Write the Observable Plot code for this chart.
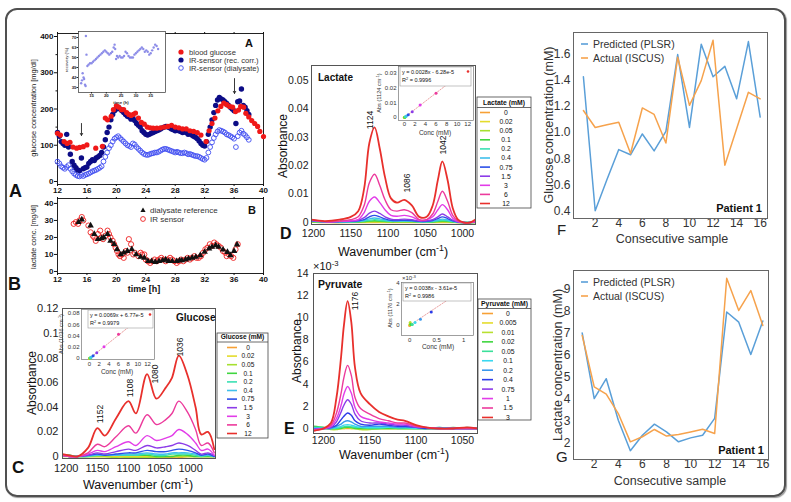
<!DOCTYPE html>
<html><head><meta charset="utf-8">
<script src="https://cdn.jsdelivr.net/npm/d3@7"></script>
<script src="https://cdn.jsdelivr.net/npm/@observablehq/plot@0.6"></script>
<style>
body{margin:0;background:#fff;}
#root{position:relative;width:791px;height:502px;overflow:hidden;background:#fff;}
#frame{position:absolute;left:5px;top:8px;width:777px;height:485px;border:2px solid #505050;border-radius:12px;box-shadow:1px 1px 1px #999;}
</style></head>
<body><div id="root"><div id="frame"></div></div>
<script>
// ---------------- DATA ----------------
// Panel A: glucose time series (time h, mg/dl)
const aTimeStart = 12, aTimeStep = 0.25, aTimeEnd = 38;
const irCorrected = [135,125,110,105,100,130,95,75,55,45, 38,32,30,65,35,38,40,50,55,60, 58,65,68,72,80,95,115,135,150,170,
 185,195,200,205,200,195,190,185,180,178, 172,175,168,160,155,150,140,135,130,128, 130,133,135,138,140,142,145,148,150,152,
 150,148,145,143,140,142,140,138,135,137, 135,130,132,128,125,122,118,112,105,100, 98,110,130,150,170,190,210,225,232,228,
 225,220,215,210,205,200,195,160,220,222, 255,210,205,195,185];
const irDialysate = [55,50,42,38,35,40,45,35,28,22, 18,15,14,18,15,18,20,22,25,28, 30,32,35,38,42,55,68,80,92,100,
 110,118,122,125,120,115,110,105,100,98, 95,105,102,95,90,85,80,76,74,73, 75,77,78,80,80,82,85,88,90,90,
 88,86,84,82,80,82,80,78,78,80, 78,75,76,74,72,70,70,68,65,62, 60,65,80,95,108,120,130,138,142,140,
 138,135,130,128,125,122,118,95,125,135, 140,132,128,122,115];
const bloodT = [12.0,12.4,12.9,13.3,13.7,14.1,14.6,15.0,15.5,16.0,17.2,18.1,18.5,18.8,19.3,19.6,20.0,20.3,20.7,21.0,21.4,21.7,22.0,22.3,22.6,23.0,23.4,23.8,24.2,24.6,25.0,25.5,26.0,26.5,27.0,27.5,28.0,28.5,29.0,29.5,30.0,30.5,31.0,31.5,32.2,32.6,33.0,33.4,33.8,34.2,34.6,35.0,35.4,35.8,36.2,36.6,36.9,37.3,37.6,38.0,38.4,38.8,39.2,39.5,40.0];
const bloodV = [133,128,110,105,108,95,92,94,96,101,92,97,175,170,180,198,209,205,198,198,190,185,182,185,189,175,163,158,150,148,147,147,148,150,152,155,150,148,145,145,140,138,135,128,110,140,160,175,195,207,216,212,207,205,193,197,207,205,188,178,168,160,152,138,124];
const arrowT = [15.26, 36.06], arrowFrom = [160, 284], arrowTo = [127, 243];
// inset of A: recovery (%)
const recT = [11.5,11.8,12.0,12.3,12.5,12.8,13.0,13.1,13.3,13.6,14.0,14.5,15.0,15.5,16.0,16.5,17.0,17.5,18.0,18.5,19.0,19.5,20.0,20.5,21.0,21.5,22.0,22.5,22.8,23.0,23.3,23.6,24.0,24.5,25.0,25.5,26.0,26.5,27.0,27.5,28.0,28.5,29.0,29.5,30.0,30.5,31.0,31.5,32.0,32.5,33.0,33.5,34.0,34.5,35.0,35.5,36.0,36.5,37.0,37.5];
const recV = [38,40,45,42,41,37,36,71,58,50,51,52,52,53,54,55,56,57,58,59,60,61,60,59,58,59,60,63,65,62,55,57,56,57,56,56,57,60,59,57,56,56,56,58,59,60,61,62,63,62,60,61,60,58,59,61,63,65,64,62];
// Panel B: lactate (mg/dl)
const refT = [14.85,15.3,16.5,17.0,17.5,18.0,18.3,18.8,19.2,19.7,20.1,20.6,21.0,21.5,22.1,22.7,23.3,23.8,24.3,24.8,25.3,25.8,26.3,26.7,27.1,27.6,28.2,28.6,28.9,29.4,29.8,30.3,30.8,31.4,32.0,32.6,33.0,33.5,33.9,34.5,35.1,35.5,36.0,36.4];
const refV = [29,30.5,27,22,19,19.5,20,22,18,16,13,10,11,12,13,10,8.5,8,6,6,5.5,6,6.5,7,6,6,6,6.5,6.5,7,7.5,8,8.5,9.5,11.5,13.4,14.4,15.4,14.4,12.8,11.4,9.5,12,15.8];
const irLacT = [14.2,14.5,14.8,15.0,15.3,15.5,16.2,16.5,16.8,17.0,17.2,17.5,17.8,18.0,18.2,18.5,18.8,19.0,19.2,19.5,19.7,19.9,20.1,20.3,20.5,20.8,21.0,21.3,21.5,21.7,22.0,22.3,22.5,23.0,23.3,23.5,23.8,24.0,24.3,24.6,24.9,25.2,25.5,25.8,26.1,26.4,26.7,27.0,27.3,27.6,27.9,28.2,28.5,28.8,29.1,29.4,29.7,30.0,30.3,30.6,30.9,31.2,31.5,31.8,32.1,32.4,32.7,33.0,33.3,33.6,33.9,34.2,34.5,34.8,35.0,35.3,35.6,35.9,36.2,36.5];
const irLacV = [28,29,28,30,32,30,27,23,21,20,18,22,24,20,19,21,24,22,20,18,16,14,12,10,9,10,8,12,11,19,16,10,11,9,11,10,10,7,6,5,6,7,6,7,8,7,6,7,8,7,6,5,6,7,6,7,8,7,8,9,8,8,9,11,13,14,16,15,17,16,15,14,12,11,9,10,9,8,13,16];

// Panel C: glucose spectra
const gConc = ["0","0.02","0.05","0.1","0.2","0.4","0.75","1.5","3","6","12"];
const gWn = [1206,1195,1182,1165,1150,1138,1120,1100,1088,1070,1055,1040,1030,1019,1005,992,983,972,962];
const gAbs = [
 [0.001,0.000,0.000,0.000,0.000,0.000,0.000,0.000,0.000,-0.001,-0.001,-0.001,-0.001,-0.001,0.000,0.000,0.000,0.000,0.000],
 [0.001,0.001,0.000,0.000,0.000,0.000,0.000,0.000,0.000,0.000,0.000,0.000,0.000,0.000,0.000,0.000,0.000,0.000,0.000],
 [0.000,0.000,0.000,0.000,0.000,0.000,-0.001,-0.001,-0.001,-0.001,-0.001,0.000,0.000,0.000,0.000,0.000,0.000,0.000,0.000],
 [0.001,0.001,0.000,0.001,0.001,0.001,0.001,0.001,0.001,0.001,0.000,0.000,0.000,0.001,0.001,0.000,0.000,0.000,0.000],
 [0.001,0.001,0.000,0.000,0.001,0.001,0.001,0.001,0.001,0.002,0.001,0.001,0.002,0.002,0.002,0.001,0.000,0.001,0.000],
 [0.001,0.000,0.000,0.001,0.001,0.001,0.001,0.002,0.002,0.003,0.002,0.002,0.003,0.003,0.003,0.002,0.001,0.001,0.000],
 [0.001,0.000,0.000,0.001,0.002,0.001,0.002,0.003,0.003,0.005,0.004,0.004,0.005,0.006,0.005,0.003,0.001,0.002,0.000],
 [0.001,0.000,0.000,0.001,0.003,0.002,0.004,0.006,0.005,0.009,0.007,0.008,0.009,0.011,0.009,0.005,0.002,0.003,0.001],
 [0.001,0.000,0.000,0.002,0.005,0.004,0.008,0.012,0.009,0.017,0.013,0.015,0.017,0.022,0.018,0.011,0.005,0.006,0.001],
 [0.001,0.000,0.000,0.003,0.010,0.008,0.016,0.025,0.019,0.034,0.026,0.030,0.035,0.045,0.036,0.022,0.009,0.011,0.003],
 [0.002,0.001,0.000,0.007,0.023,0.017,0.031,0.045,0.035,0.067,0.047,0.056,0.064,0.082,0.066,0.040,0.018,0.020,0.006]];
const gFitAbs = [0,0.0002,0.0004,0.0007,0.0014,0.0028,0.005,0.010,0.021,0.043,0.082];

// Panel D: lactate spectra
const lConc = ["0","0.02","0.05","0.1","0.2","0.4","0.75","1.5","3","6","12"];
const lWn = [1203,1185,1165,1150,1140,1132,1125,1118,1111,1104,1096,1088,1078,1068,1058,1048,1040,1033,1027,1020,1013,1006,998,990,983];
const lAbs = [
 [0.0002,0,0,0,0,0,0,0,0,0,0,0,0,0,0,0,0,0,0,0,0,0,0,0,0],
 [0.0003,0.0001,0.0001,0.0001,0.0001,0.0001,0.0001,0.0002,0.0001,0.0001,0.0001,0.0001,0.0001,0.0001,0.0001,0.0001,0.0001,0.0001,0.0002,0.0001,0.0001,0,0,0,0],
 [0.0002,0.0001,0,0.0001,0.0001,0.0002,0.0003,0.0003,0.0003,0.0002,0.0002,0.0002,0.0002,0.0002,0.0001,0.0001,0.0001,0.0002,0.0003,0.0002,0.0001,0,0,0,0],
 [0.0003,0.0001,0.0001,0.0001,0.0002,0.0003,0.0005,0.0006,0.0005,0.0004,0.0003,0.0003,0.0003,0.0003,0.0002,0.0002,0.0002,0.0004,0.0005,0.0004,0.0002,0.0001,0,0,0.0001],
 [0.0004,0.0002,0.0002,0.0002,0.0003,0.0005,0.0008,0.001,0.0008,0.0006,0.0004,0.0004,0.0004,0.0004,0.0002,0.0002,0.0003,0.0006,0.0008,0.0006,0.0003,0.0001,0,0,0.0001],
 [0.0005,0.0002,0.0002,0.0003,0.0004,0.0007,0.0013,0.0016,0.0013,0.0009,0.0006,0.0005,0.0006,0.0005,0.0003,0.0003,0.0005,0.0009,0.0012,0.0009,0.0004,0.0001,0,0,0.0001],
 [0.0006,0.0003,0.0003,0.0004,0.0006,0.001,0.002,0.0025,0.002,0.0013,0.0008,0.0007,0.0008,0.0007,0.0004,0.0004,0.0007,0.0014,0.002,0.0014,0.0006,0.0002,0,0,0.0002],
 [0.0008,0.0003,0.0004,0.0005,0.0008,0.0017,0.0033,0.004,0.0032,0.002,0.0012,0.001,0.0012,0.001,0.0005,0.0006,0.001,0.002,0.003,0.002,0.0008,0.0002,0,0,0.0002],
 [0.0008,0.0003,0.0004,0.0006,0.001,0.0035,0.0075,0.009,0.007,0.0045,0.0025,0.0022,0.0025,0.002,0.0008,0.001,0.002,0.0045,0.0063,0.0045,0.0015,0.0003,0,0,0.0003],
 [0.001,0.0003,0.0005,0.001,0.002,0.006,0.014,0.017,0.013,0.008,0.0045,0.004,0.0045,0.0035,0.001,0.001,0.003,0.0075,0.011,0.0075,0.0025,0.0005,0,0,0.0005],
 [0.001,0.0005,0.001,0.002,0.004,0.012,0.028,0.0335,0.026,0.016,0.0085,0.007,0.008,0.006,0.002,0.002,0.006,0.015,0.0215,0.015,0.005,0.001,0,0,0.001]];
const lFitAbs = [0,0.0001,0.0002,0.0003,0.0006,0.0011,0.002,0.004,0.0085,0.0165,0.0335];

// Panel E: pyruvate spectra (absorbance x 10^-3)
const pConc = ["0","0.005","0.01","0.02","0.05","0.1","0.2","0.4","0.75","1","1.5","3"];
const pWn = [1211,1200,1192,1186,1181,1178,1174,1170,1166,1160,1150,1140,1130,1120,1112,1100,1090,1075,1060,1045,1033];
const pAbsE3 = [
 [0,0,0,0,0,0,0,0,0,0,0,0,0,0,0,0,0,0,0,0,0],
 [0.1,0.1,0.1,0.1,0.1,0.1,0.1,0.1,0.1,0,0,0,0,0,0,0,0,0,0,0,0],
 [0,0,-0.1,-0.1,0,0,0.1,0,0,-0.1,-0.1,0,0,0,0,0,0,0,0,0,0],
 [0.2,0.1,0,0,0,0.1,0.1,0.1,0,0,0,0,0,0,0,0,0,0,0.1,0,0],
 [0.1,0.1,0,0,0.1,0.15,0.2,0.15,0.1,0.1,0,0,0.1,0,0,0,0,0.1,0,0.1,0],
 [0.1,0,0,0.1,0.2,0.3,0.35,0.3,0.2,0.1,0.1,0.1,0.1,0.1,0.1,0,0,0.1,0,0,0],
 [0,0,0,0.2,0.4,0.6,0.7,0.6,0.4,0.2,0.2,0.2,0.2,0.1,0.1,0.1,0,0,0,0,0],
 [-0.1,0,0.1,0.3,0.8,1.1,1.4,1.2,0.7,0.4,0.3,0.4,0.3,0.2,0.2,0.1,0,0,0,0,0],
 [-0.1,0,0.1,0.6,1.5,2.1,2.6,2.2,1.3,0.7,0.5,0.5,0.4,0.3,0.3,0.1,0.1,0,0,0,0],
 [-0.1,0,0.2,0.9,2.1,3.1,3.8,3.2,1.9,1.1,0.8,0.6,0.5,0.4,0.4,0.2,0.1,0,0,0,0],
 [-0.2,0,0.3,1.4,3.2,4.6,5.7,4.8,2.8,1.8,1.3,0.9,0.7,0.5,0.5,0.2,0.1,0,0,0,0],
 [-0.2,0,0.5,2.8,6.5,9.3,11.5,9.6,5.5,3.2,2.2,1.5,1.1,0.8,0.7,0.3,0.1,0,0,0.1,0]];
const pFitConc = [0,0.005,0.01,0.02,0.05,0.1,0.2,0.4,0.75,1];
const pFitAbsE3 = [0,0.1,0.3,0.1,0.1,0.3,0.6,1.3,2.5,3.6];

// Panels F, G: PLSR predictions, patient 1
const sampleNo = [1,2,3,4,5,6,7,8,9,10,11,12,13,14,15,16];
const gluPredicted = [1.43,0.40,0.64,0.87,0.83,0.99,0.86,1.01,1.60,1.04,1.68,1.43,1.51,1.26,1.70,1.12];
const gluActual = [1.17,1.04,1.06,1.08,0.84,1.19,1.14,0.92,1.58,1.21,1.40,1.71,0.75,1.03,1.31,1.26];
const lacPredicted = [7.0,4.03,4.93,3.05,1.67,2.37,2.87,2.52,2.07,2.25,2.37,3.13,7.95,7.49,6.03,7.54];
const lacActual = [6.89,4.56,4.23,3.35,2.07,2.30,2.63,2.33,2.40,2.52,2.64,2.45,9.48,8.02,8.92,7.34];

// colours
const spec11 = ["#f7a035","#e4dc2c","#a6e030","#40d640","#3ae0b4","#40c0ec","#2c50e8","#8c3ce8","#e23ce8","#ec3a9c","#e8302c"];
const spec12 = ["#f7a035","#e4dc2c","#b8e030","#40d640","#3ae09a","#3ad8f0","#3a98ec","#2c3ce8","#8c3ce8","#e23ce8","#ec3a9c","#e8302c"];
const cPred = "#5a9fd8", cAct = "#f6a24c";

// ---------------- HELPERS ----------------
const FONT = '"Liberation Sans", Arial, Helvetica, sans-serif';
const root = document.getElementById("root");
function mount(box, m, opts, style = {}) {
  const [x0, y0, x1, y1] = box, [mt, mr, mb, ml] = m;
  const p = Plot.plot({
    ...opts,
    width: x1 - x0 + ml + mr, height: y1 - y0 + mt + mb,
    marginTop: mt, marginRight: mr, marginBottom: mb, marginLeft: ml,
    style: {background: "transparent", fontFamily: FONT, overflow: "visible", ...style}
  });
  p.style.position = "absolute"; p.style.left = (x0 - ml) + "px"; p.style.top = (y0 - mt) + "px";
  p.style.maxWidth = "none";
  root.appendChild(p);
  return p;
}
const tGrid = d3.range(aTimeStart, aTimeEnd + 0.001, aTimeStep);
const corrRows = irCorrected.map((v, i) => ({t: tGrid[i], v}));
const dialRows = irDialysate.map((v, i) => ({t: tGrid[i], v}));
const bloodRows = bloodT.map((t, i) => ({t, v: bloodV[i]}));
const arrowRows = arrowT.map((t, i) => ({t, from: arrowFrom[i], to: arrowTo[i]}));
const recRows = recT.map((t, i) => ({t, v: recV[i]}));
const refRows = refT.map((t, i) => ({t, v: refV[i]}));
const irLacRows = irLacT.map((t, i) => ({t, v: irLacV[i]}));
function specLines(wn, abs, colors) {
  return abs.map((arr, i) => Plot.line(wn.map((w, j) => ({w, a: arr[j]})),
    {x: "w", y: "a", stroke: colors[i], strokeWidth: i === abs.length - 1 ? 1.8 : 1.4, curve: "catmull-rom", clip: true}));
}
const xTicksA = [12,16,20,24,28,32,36,40];

// ---------------- PANEL A ----------------
mount([57,33,263,184],[4,4,14,26],{
  x:{domain:[12,40]}, y:{domain:[-8.3,408.3]},
  marks:[
    Plot.frame({stroke:"#222"}),
    Plot.axisY({ticks:[0,100,200,300,400], tickSize:3, tickPadding:1, label:null, tickFormat:d=>String(d)}),
    Plot.axisY({ticks:[50,150,250,350], tickSize:1.5, label:null, tickFormat:()=>""}),
    Plot.axisX({ticks:xTicksA, tickSize:2, tickPadding:1, label:null, tickFormat:d=>String(d)}),
    Plot.axisX({anchor:"top", ticks:xTicksA, tickSize:2, label:null, tickFormat:()=>""}),
    Plot.dot(dialRows,{x:"t",y:"v",r:2.4,stroke:"#3f4df0",strokeWidth:0.9,fill:"none"}),
    Plot.dot(corrRows,{x:"t",y:"v",r:2.7,fill:"#0c0c86"}),
    Plot.dot(bloodRows,{x:"t",y:"v",r:2.6,fill:"#f01818"}),
    Plot.arrow(arrowRows,{x1:"t",x2:"t",y1:"from",y2:"to",headLength:4,strokeWidth:0.9,stroke:"#222"})
  ]
},{fontSize:"8px",fontWeight:"bold",color:"#111"});
// inset recovery
mount([78,31,165,92],[2,2,10,12],{
  x:{domain:[10.6,40]}, y:{domain:[31.5,74.2]},
  marks:[
    Plot.frame({fill:"white",stroke:"#333",strokeWidth:0.7}),
    Plot.axisY({ticks:[35,42,49,56,63,70], tickSize:1.5, tickPadding:0.5, label:null, tickFormat:d=>String(d)}),
    Plot.axisX({ticks:[15,20,25,30,35], tickSize:1.5, tickPadding:0, label:null, tickFormat:d=>String(d)}),
    Plot.dot(recRows,{x:"t",y:"v",r:1.2,fill:"#8d8de8"})
  ]
},{fontSize:"4.3px",fontWeight:"bold",color:"#222"});

// ---------------- PANEL B ----------------
mount([57,198,263,273],[3,4,14,26],{
  x:{domain:[12,40]}, y:{domain:[-1.2,42.9]},
  marks:[
    Plot.frame({stroke:"#222"}),
    Plot.axisY({ticks:[0,10,20,30,40], tickSize:3, tickPadding:1, label:null, tickFormat:d=>String(d)}),
    Plot.axisX({ticks:xTicksA, tickSize:2, tickPadding:1, label:null, tickFormat:d=>String(d)}),
    Plot.axisX({anchor:"top", ticks:xTicksA, tickSize:2, label:null, tickFormat:()=>""}),
    Plot.dot(irLacRows,{x:"t",y:"v",r:2.6,stroke:"#ee2020",strokeWidth:0.9,fill:"none"}),
    Plot.dot(refRows,{x:"t",y:"v",r:2.4,symbol:"triangle",fill:"#111"})
  ]
},{fontSize:"8px",fontWeight:"bold",color:"#111"});

// ---------------- PANEL C ----------------
mount([62,308,215,458],[4,4,22,40],{
  x:{domain:[1206,960]}, y:{domain:[-0.0016,0.1203]},
  marks:[
    ...specLines(gWn, gAbs, spec11),
    Plot.axisY({ticks:[0,0.02,0.04,0.06,0.08,0.1,0.12], tickSize:0, tickPadding:4, label:null, tickFormat:d=>String(d)}),
    Plot.axisX({ticks:[1200,1150,1100,1050,1000], tickSize:0, tickPadding:5.5, label:null, tickFormat:d=>String(d)}),
    Plot.frame({stroke:"#555"})
  ]
},{fontSize:"11px",color:"#222"});
const gFitRows = gConc.map((c, i) => ({c: +c, a: gFitAbs[i], col: spec11[i]}));
mount([81,309,154,359],[1,1,10,14],{
  x:{domain:[-1.66,13.45]}, y:{domain:[-0.0018,0.0871]}, color:{type:"identity"},
  marks:[
    Plot.frame({fill:"white",stroke:"#777",strokeWidth:0.7}),
    Plot.linearRegressionY(gFitRows,{x:"c",y:"a",stroke:"#e58a8a",strokeDasharray:"1.5,1.5",strokeWidth:0.8,ci:0}),
    Plot.dot(gFitRows,{x:"c",y:"a",fill:"col",r:1.5}),
    Plot.axisY({ticks:[0,0.02,0.04,0.06,0.08], tickSize:0, tickPadding:2, label:null, tickFormat:d=>String(d)}),
    Plot.axisX({ticks:[0,2,4,6,8,10,12], tickSize:0, tickPadding:2, label:null, tickFormat:d=>String(d)})
  ]
},{fontSize:"6px",color:"#333"});

// ---------------- PANEL D ----------------
mount([311,65,475,224],[4,4,22,40],{
  x:{domain:[1202.7,982.5]}, y:{domain:[-0.0007,0.0553]},
  marks:[
    ...specLines(lWn, lAbs, spec11),
    Plot.axisY({ticks:[0,0.01,0.02,0.03,0.04,0.05], tickSize:0, tickPadding:3, label:null, tickFormat:d=>String(d)}),
    Plot.axisX({ticks:[1200,1150,1100,1050,1000], tickSize:0, tickPadding:5.5, label:null, tickFormat:d=>String(d)}),
    Plot.frame({stroke:"#555"})
  ]
},{fontSize:"10.5px",color:"#222"});
const lFitRows = lConc.map((c, i) => ({c: +c, a: lFitAbs[i], col: spec11[i]}));
mount([398,66,473,120],[1,1,10,14],{
  x:{domain:[-1.1,13.1]}, y:{domain:[-0.002,0.0348]}, color:{type:"identity"},
  marks:[
    Plot.frame({fill:"white",stroke:"#777",strokeWidth:0.7}),
    Plot.linearRegressionY(lFitRows,{x:"c",y:"a",stroke:"#e58a8a",strokeDasharray:"1.5,1.5",strokeWidth:0.8,ci:0}),
    Plot.dot(lFitRows,{x:"c",y:"a",fill:"col",r:1.5}),
    Plot.axisY({ticks:[0,0.01,0.02,0.03], tickSize:0, tickPadding:2, label:null, tickFormat:d=>String(d)}),
    Plot.axisX({ticks:[0,2,4,6,8,10,12], tickSize:0, tickPadding:1.5, label:null, tickFormat:d=>String(d)})
  ]
},{fontSize:"6px",color:"#333"});

// ---------------- PANEL E ----------------
mount([313,273,477,433],[4,4,22,40],{
  x:{domain:[1210.8,1033.8]}, y:{domain:[-0.45,14]},
  marks:[
    ...specLines(pWn, pAbsE3, spec12),
    Plot.axisY({ticks:[0,2,4,6,8,10,12,14], tickSize:0, tickPadding:5, label:null, tickFormat:d=>String(d)}),
    Plot.axisX({ticks:[1200,1150,1100,1050], tickSize:0, tickPadding:3, label:null, tickFormat:d=>String(d)}),
    Plot.frame({stroke:"#555"})
  ]
},{fontSize:"10.5px",color:"#222"});
const pFitRows = pFitConc.map((c, i) => ({c, a: pFitAbsE3[i], col: spec12[i]}));
mount([401,282,473,335],[1,1,10,14],{
  x:{domain:[-0.15,1.18]}, y:{domain:[-0.95,4.1]}, color:{type:"identity"},
  marks:[
    Plot.frame({fill:"white",stroke:"#777",strokeWidth:0.7}),
    Plot.linearRegressionY(pFitRows,{x:"c",y:"a",stroke:"#e58a8a",strokeDasharray:"1.5,1.5",strokeWidth:0.8,ci:0}),
    Plot.dot(pFitRows,{x:"c",y:"a",fill:"col",r:1.5}),
    Plot.axisY({ticks:[0,2,4], tickSize:0, tickPadding:2, label:null, tickFormat:d=>String(d)}),
    Plot.axisX({ticks:[0,0.5,1], tickSize:0, tickPadding:2, label:null, tickFormat:d=>String(d)})
  ]
},{fontSize:"6px",color:"#333"});

// ---------------- PANELS F, G ----------------
function plsr(box, xd, yd, yt, fmt, pred, act) {
  const pr = sampleNo.map((s, i) => ({s, v: pred[i]})), ac = sampleNo.map((s, i) => ({s, v: act[i]}));
  mount(box,[2,2,20,40],{
    x:{domain:xd}, y:{domain:yd},
    marks:[
      Plot.line(pr,{x:"s",y:"v",stroke:cPred,strokeWidth:1.5}),
      Plot.line(ac,{x:"s",y:"v",stroke:cAct,strokeWidth:1.5}),
      Plot.axisY({ticks:yt, tickSize:0, tickPadding:3, label:null, tickFormat:fmt}),
      Plot.axisX({ticks:[2,4,6,8,10,12,14,16], tickSize:0, tickPadding:0, label:null, tickFormat:d=>String(d)}),
      Plot.frame({stroke:"#666"})
    ]
  },{fontSize:"12px",color:"#333"});
}
plsr([573,32,767,218],[0.16,16.62],[0.34,1.77],[0.4,0.6,0.8,1.0,1.2,1.4,1.6],d=>d.toFixed(1),gluPredicted,gluActual);
plsr([573,270,768,459],[0.28,16.47],[1.27,9.83],[2,3,4,5,6,7,8,9],d=>String(d),lacPredicted,lacActual);

// ---------------- OVERLAY TEXT / LEGENDS ----------------
const ov = d3.create("svg").attr("width",791).attr("height",502)
  .style("position","absolute").style("left","0px").style("top","0px").style("overflow","visible");
root.appendChild(ov.node());
function T(x, y, parts, o = {}) {
  const size = o.size || 10;
  const t = ov.append("text").attr("x",x).attr("y",y).attr("font-size",size).attr("font-family",FONT)
    .attr("font-weight",o.weight||"normal").attr("text-anchor",o.anchor||"start").attr("fill",o.fill||"#111");
  if (o.rot) t.attr("transform",`rotate(-90 ${x} ${y})`).attr("text-anchor","middle").attr("dy","0.35em");
  if (typeof parts === "string") parts = [parts];
  let up = false;
  parts.forEach(p => {
    const sup = Array.isArray(p);
    const s = t.append("tspan").text(sup ? p[0] : p);
    if (sup && !up) { s.attr("dy", -0.4*size).attr("font-size", size*0.7); up = true; }
    else if (!sup && up) { s.attr("dy", 0.4*size); up = false; }
  });
  return t;
}
function line(x1,y1,x2,y2,c,w){ ov.append("line").attr("x1",x1).attr("y1",y1).attr("x2",x2).attr("y2",y2).attr("stroke",c).attr("stroke-width",w); }
function legendBox(x0,y0,x1,y1,lineY,title,labels,colors,firstY,step,sw0,sw1,tx,fs){
  ov.append("rect").attr("x",x0).attr("y",y0).attr("width",x1-x0).attr("height",y1-y0).attr("fill","white").attr("stroke","#444").attr("stroke-width",0.8);
  line(x0,lineY,x1,lineY,"#444",0.8);
  T((x0+x1)/2, lineY-2.6, title, {size:fs, weight:"bold", anchor:"middle"});
  labels.forEach((l,i)=>{ const y=firstY+i*step; line(sw0,y,sw1,y,colors[i],1.6); T(tx,y+fs*0.36,l,{size:fs,anchor:"middle"}); });
}
function eqBox(x0,y0,x1,y1,l1,l2,fs,dot){
  ov.append("rect").attr("x",x0).attr("y",y0).attr("width",x1-x0).attr("height",y1-y0).attr("fill","white").attr("stroke","#999").attr("stroke-width",0.6);
  T(x0+2, y0+6.5, l1, {size:fs});
  T(x0+2, y0+15, ["R",["2"]," = "+l2], {size:fs});
  if (dot) ov.append("circle").attr("cx",x1-3).attr("cy",y0+4.5).attr("r",1.3).attr("fill","#e8302c");
}

// A
T(33,108,"glucose concentration [mg/dl]",{size:7.5,rot:true,fill:"#222"});
T(245,47,"A",{size:11,weight:"bold"});
ov.append("circle").attr("cx",181).attr("cy",52).attr("r",2.6).attr("fill","#f01818");
ov.append("circle").attr("cx",181).attr("cy",60).attr("r",2.6).attr("fill","#0c0c86");
ov.append("circle").attr("cx",181).attr("cy",68).attr("r",2.3).attr("fill","none").attr("stroke","#3f4df0").attr("stroke-width",0.9);
T(189,55,"blood glucose",{size:7.6,fill:"#333"});
T(189,63,"IR-sensor (rec. corr.)",{size:7.6,fill:"#333"});
T(189,71,"IR-sensor (dialysate)",{size:7.6,fill:"#333"});
T(66,60,"recovery (%)",{size:4.3,rot:true,fill:"#333"});
T(121,104,"time (h)",{size:4.3,weight:"bold",anchor:"middle",fill:"#333"});
T(9,197,"A",{size:18,weight:"bold"});
// B
T(33,237,"lactate conc. [mg/dl]",{size:7.2,rot:true,fill:"#222"});
T(248,214,"B",{size:11,weight:"bold"});
ov.append("path").attr("d","M143,207.4 L145.6,212 L140.4,212 Z").attr("fill","#111");
ov.append("circle").attr("cx",143).attr("cy",219).attr("r",2.4).attr("fill","none").attr("stroke","#ee2020").attr("stroke-width",0.9);
T(150,213,"dialysate reference",{size:8,fill:"#333"});
T(150,222,"IR sensor",{size:8,fill:"#333"});
T(144,292,"time [h]",{size:9,weight:"bold",anchor:"middle"});
T(8,290,"B",{size:18,weight:"bold"});
// C
T(32,383,"Absorbance",{size:12,rot:true});
T(138,489,["Wavenumber (cm",["-1"],")"],{size:12.5,anchor:"middle"});
T(12,473,"C",{size:17,weight:"bold"});
T(176,321,"Glucose",{size:10,weight:"bold"});
T(100,414,"1152",{size:8.5,rot:true}); T(130,388,"1108",{size:8.5,rot:true});
T(155,374,"1080",{size:8.5,rot:true}); T(180,347,"1036",{size:8.5,rot:true});
T(61,334,["Abs (1036 cm",["-1"],")"],{size:5.6,rot:true,fill:"#333"});
T(117,374,"Conc (mM)",{size:6.5,anchor:"middle",fill:"#333"});
eqBox(88,310,153,328,"y = 0.0069x + 6.77e-5","0.9979",5.5,true);
legendBox(217,333,268,438,342,"Glucose (mM)",gConc,spec11,347.5,8.6,227,237,248,6.6);
// D
T(283,146,"Absorbance",{size:12,rot:true});
T(393,256,["Wavenumber (cm",["-1"],")"],{size:12.5,anchor:"middle"});
T(280,239,"D",{size:16,weight:"bold"});
T(318,81,"Lactate",{size:10,weight:"bold"});
T(370,120,"1124",{size:8.5,rot:true}); T(407,183,"1086",{size:8.5,rot:true}); T(443,145,"1042",{size:8.5,rot:true});
T(379,93,["Abs (1124 cm",["-1"],")"],{size:5.6,rot:true,fill:"#333"});
T(435,135,"Conc (mM)",{size:6.5,anchor:"middle",fill:"#333"});
eqBox(400,67,471,86,"y = 0.0028x - 6.28e-5","0.9996",5.5,true);
legendBox(477,97,531,208,107.5,"Lactate (mM)",lConc,spec11,112.5,9.1,480,490,506,6.8);
// E
T(313,270,["\u00d710",["-3"]],{size:11});
T(297,351,"Absorbance",{size:12,rot:true});
T(394,459,["Wavenumber (cm",["-1"],")"],{size:12.5,anchor:"middle"});
T(284,434,"E",{size:16,weight:"bold"});
T(318,288,"Pyruvate",{size:10.5,weight:"bold"});
T(355,301,"1176",{size:8.5,rot:true});
T(402,280,["\u00d710",["-3"]],{size:6,fill:"#333"});
T(390,308,["Abs (1176 cm",["-1"],")"],{size:5.6,rot:true,fill:"#333"});
T(438,349,"Conc (mM)",{size:6.5,anchor:"middle",fill:"#333"});
eqBox(403,283,471,301,"y = 0.0038x - 3.61e-5","0.9986",5.5,false);
legendBox(478,299,531,420,308.5,"Pyruvate (mM)",pConc,spec12,313.5,9.45,482,493,508,6.8);
// F
T(549,125,"Glucose concentration (mM)",{size:12.5,rot:true,fill:"#333"});
T(672,243,"Consecutive sample",{size:12.5,anchor:"middle",fill:"#333"});
T(557,235,"F",{size:15,fill:"#222"});
line(581,44,588,44,cPred,1.6); T(593,48,"Predicted (PLSR)",{size:10.5,fill:"#333"});
line(581,58,588,58,cAct,1.6); T(593,62,"Actual (ISCUS)",{size:10.5,fill:"#333"});
T(762,212,"Patient 1",{size:11,weight:"bold",anchor:"end"});
// G
T(558,365,"Lactate concentration (mM)",{size:12.5,rot:true,fill:"#333"});
T(670,485,"Consecutive sample",{size:12.5,anchor:"middle",fill:"#333"});
T(556,462,"G",{size:15,fill:"#222"});
line(581,282,588,282,cPred,1.6); T(593,286,"Predicted (PLSR)",{size:10.5,fill:"#333"});
line(581,296,588,296,cAct,1.6); T(593,300,"Actual (ISCUS)",{size:10.5,fill:"#333"});
T(764,454,"Patient 1",{size:11,weight:"bold",anchor:"end"});
</script>
</body></html>
